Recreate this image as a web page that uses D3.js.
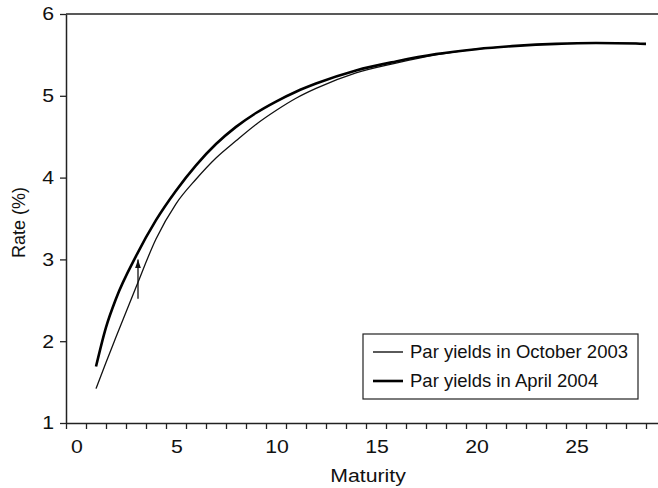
<!DOCTYPE html>
<html>
<head>
<meta charset="utf-8">
<script src="https://cdn.jsdelivr.net/npm/d3@7"></script>
<style>
  body { margin: 0; background: #fff; }
  text { font-family: "Liberation Sans", Arial, sans-serif; fill: #111; }
</style>
</head>
<body>
<div id="chart"></div>
<script>
// par yield curves
const maturities = [1, 1.5, 2, 3, 4, 5, 6, 7, 8, 9, 10, 11, 12, 14, 16, 18, 20, 22, 24, 26, 28, 28.5];
const octYields  = [1.42, 1.74, 2.05, 2.66, 3.25, 3.68, 3.98, 4.24, 4.45, 4.65, 4.82, 4.97, 5.09, 5.28, 5.40, 5.50, 5.57, 5.61, 5.635, 5.645, 5.64, 5.635];
const aprYields  = [1.69, 2.17, 2.52, 3.04, 3.48, 3.84, 4.15, 4.41, 4.62, 4.79, 4.93, 5.05, 5.15, 5.31, 5.42, 5.51, 5.57, 5.61, 5.635, 5.645, 5.64, 5.635];
const seriesNames = ["Par yields in October 2003", "Par yields in April 2004"];
const yTicks = [1, 2, 3, 4, 5, 6];
const xLabels = [0, 5, 10, 15, 20, 25];
const arrow = {m: 3.1, from: 2.52, to: 3.0};

const W = 658, H = 488;
const margin = {top: 14, left: 66, bottom: 65};
const stretch = 1.15; // axis lettering in the picture is a little wide

const x = d3.scaleLinear().domain([-0.5, 29.5]).range([margin.left, margin.left + 600]);
const y = d3.scaleLinear().domain([1, 6]).range([H - margin.bottom, margin.top]);

const svg = d3.select("#chart").append("svg")
    .attr("width", W)
    .attr("height", H);

svg.append("defs").append("marker")
    .attr("id", "head")
    .attr("viewBox", "0 0 6 9")
    .attr("refX", 3).attr("refY", 0)
    .attr("markerWidth", 6).attr("markerHeight", 9)
    .attr("markerUnits", "userSpaceOnUse")
    .attr("orient", "0")
  .append("path")
    .attr("d", "M0,9 L3,0 L6,9 Z")
    .attr("fill", "#111");

// frame: top line
svg.append("line")
    .attr("x1", x(-0.5)).attr("x2", W)
    .attr("y1", y(6)).attr("y2", y(6))
    .attr("stroke", "#222").attr("stroke-width", 1.5);

// x axis with ticks between categories
const xTickVals = d3.range(-0.5, 30, 1);
const xAxis = svg.append("g")
    .attr("transform", `translate(0,${y(1)})`)
    .call(d3.axisBottom(x).tickValues(xTickVals).tickSize(6).tickSizeOuter(0).tickFormat(""));
xAxis.select(".domain").attr("stroke", "#222").attr("stroke-width", 1.5);
xAxis.selectAll(".tick line").attr("stroke", "#222").attr("stroke-width", 1.3);

svg.append("g").selectAll("text")
    .data(xLabels)
    .join("text")
    .attr("transform", d => `translate(${x(d) + 1},453) scale(${stretch},1)`)
    .attr("text-anchor", "middle")
    .style("font-size", "18.5px")
    .text(d => d);

// y axis
const yAxis = svg.append("g")
    .attr("transform", `translate(${x(-0.5)},0)`)
    .call(d3.axisLeft(y).tickValues(yTicks).tickSize(6).tickSizeOuter(0).tickFormat(""));
yAxis.select(".domain").attr("stroke", "#222").attr("stroke-width", 1.5);
yAxis.selectAll(".tick line").attr("stroke", "#222").attr("stroke-width", 1.3);

svg.append("g").selectAll("text")
    .data(yTicks)
    .join("text")
    .attr("transform", d => `translate(54,${y(d)}) scale(${stretch},1)`)
    .attr("text-anchor", "end")
    .attr("dy", "0.35em")
    .style("font-size", "18.5px")
    .text(d3.format("d"));

// axis titles
svg.append("text")
    .attr("transform", `translate(${x(14.6)},482) scale(${stretch},1)`)
    .attr("text-anchor", "middle")
    .style("font-size", "18.5px")
    .text("Maturity");

svg.append("text")
    .attr("transform", `translate(25,${(y(1) + y(6)) / 2 + 4}) rotate(-90)`)
    .attr("text-anchor", "middle")
    .style("font-size", "18px")
    .text("Rate (%)");

// curves
const line = d3.line()
    .x((d, i) => x(maturities[i]))
    .y(d => y(d))
    .curve(d3.curveMonotoneX);

svg.append("path")
    .datum(octYields)
    .attr("d", line)
    .attr("fill", "none")
    .attr("stroke", "#111")
    .attr("stroke-width", 1.3);

svg.append("path")
    .datum(aprYields)
    .attr("d", line)
    .attr("fill", "none")
    .attr("stroke", "#000")
    .attr("stroke-width", 2.6);

// arrow showing the shift
svg.append("line")
    .attr("x1", x(arrow.m)).attr("x2", x(arrow.m))
    .attr("y1", y(arrow.from)).attr("y2", y(arrow.to))
    .attr("stroke", "#111")
    .attr("stroke-width", 1.3)
    .attr("marker-end", "url(#head)");

// legend
const legend = svg.append("g").attr("transform", "translate(363,334)");
legend.append("rect")
    .attr("width", 275).attr("height", 65)
    .attr("fill", "#fff")
    .attr("stroke", "#222").attr("stroke-width", 1.2);

seriesNames.forEach((name, i) => {
    const ly = 18 + i * 29;
    legend.append("line")
        .attr("x1", 10).attr("x2", 40)
        .attr("y1", ly).attr("y2", ly)
        .attr("stroke", "#000")
        .attr("stroke-width", i === 0 ? 1.3 : 2.6);
    legend.append("text")
        .attr("x", 47)
        .attr("y", ly)
        .attr("dy", "0.35em")
        .style("font-size", "18.5px")
        .text(name);
});
</script>
</body>
</html>
